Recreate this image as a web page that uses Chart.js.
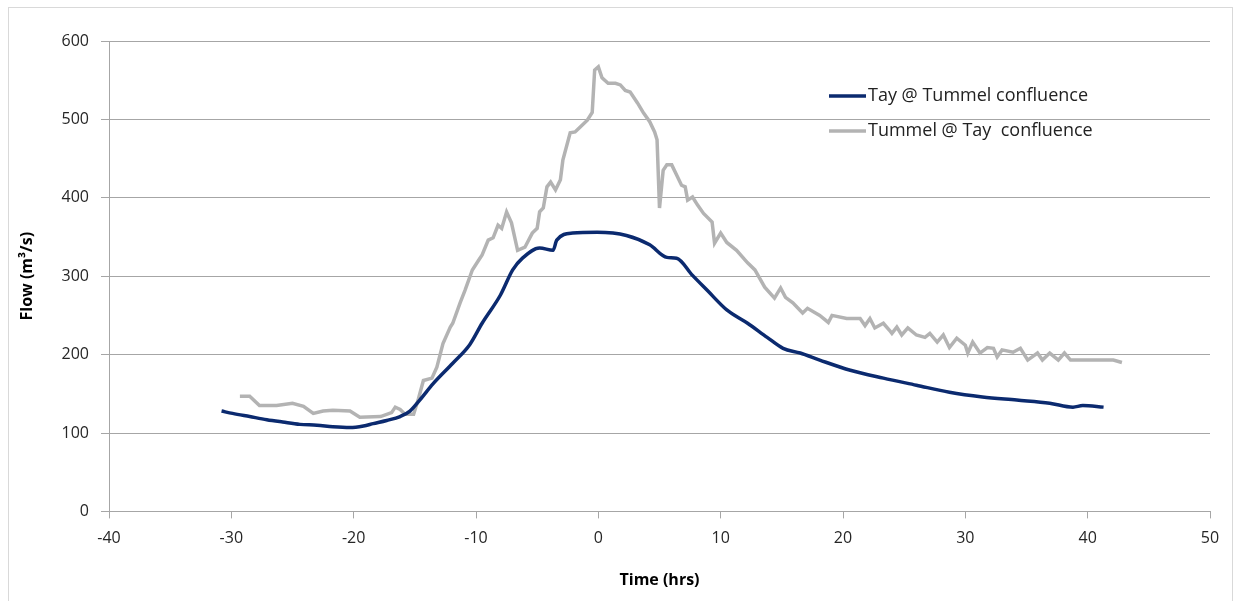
<!DOCTYPE html>
<html>
<head>
<meta charset="utf-8">
<script src="https://cdn.jsdelivr.net/npm/chart.js@4/dist/chart.umd.min.js"></script>
<style>
  body { margin: 0; background: #fff; }
  #wrap { width: 1235px; height: 601px; }
</style>
</head>
<body>
<div id="wrap"><canvas id="flow-chart"></canvas></div>
<script>
// Tay @ Tummel confluence
let tayTime = [-30.8, -29.9, -28.5, -27.1, -25.8, -24.4, -23.0, -21.7, -20.3, -19.2, -18.4, -17.3, -16.2, -15.4, -14.6, -13.5, -11.9, -10.5, -9.5, -8.0, -7.0, -6.2, -4.8, -3.7, -3.4, -2.1, -0.1, 2.3, 4.2, 5.6, 6.4, 7.7, 8.9, 10.5, 12.2, 13.8, 15.1, 16.5, 18.1, 20.6, 23.3, 26.0, 28.7, 31.4, 34.2, 36.9, 38.8, 39.6, 41.3];
let tayFlow = [128, 125, 121, 117, 114, 111, 110, 108, 107, 109, 112, 116, 121, 128, 142, 163, 189, 213, 240, 276, 308, 323, 336, 333, 346, 355, 356, 352, 340, 324, 323, 301, 282, 257, 240, 222, 208, 202, 193, 180, 170, 161, 152, 146, 142, 138, 133, 135, 133];

// Tummel @ Tay confluence
let tummelTime = [-29.3, -28.5, -27.7, -26.3, -25.0, -24.1, -23.3, -22.5, -21.7, -20.3, -19.5, -17.8, -16.9, -16.6, -16.2, -15.8, -15.1, -14.7, -14.3, -13.6, -13.2, -12.7, -12.1, -11.9, -11.3, -10.9, -10.3, -9.8, -9.5, -9.0, -8.6, -8.2, -7.9, -7.5, -7.1, -6.6, -6.0, -5.4, -5.0, -4.8, -4.5, -4.2, -3.9, -3.5, -3.1, -2.9, -2.3, -1.9, -1.5, -0.9, -0.5, -0.3, 0.0, 0.3, 0.8, 1.4, 1.8, 2.2, 2.6, 3.2, 3.7, 4.2, 4.6, 4.8, 5.0, 5.3, 5.6, 6.0, 6.4, 6.8, 7.1, 7.3, 7.7, 8.1, 8.6, 9.3, 9.5, 10.0, 10.5, 11.3, 12.2, 12.8, 13.6, 14.4, 14.9, 15.3, 15.9, 16.7, 17.1, 18.1, 18.8, 19.1, 20.3, 21.4, 21.8, 22.2, 22.6, 23.3, 23.8, 24.0, 24.4, 24.8, 25.3, 26.0, 26.7, 27.1, 27.7, 28.2, 28.7, 29.3, 30.0, 30.2, 30.6, 31.2, 31.8, 32.3, 32.6, 33.0, 33.9, 34.5, 35.1, 35.9, 36.3, 36.9, 37.6, 38.1, 38.6, 42.1, 42.8];
let tummelFlow = [147, 147, 135, 135, 138, 134, 125, 128, 129, 128, 120, 121, 126, 133, 130, 124, 124, 144, 167, 170, 184, 214, 235, 240, 266, 282, 308, 320, 327, 346, 349, 365, 361, 382, 368, 333, 337, 355, 361, 382, 387, 414, 420, 410, 423, 448, 483, 484, 490, 499, 509, 563, 567, 553, 546, 546, 544, 537, 535, 521, 508, 497, 484, 474, 387, 435, 442, 442, 429, 416, 414, 397, 401, 391, 380, 369, 342, 355, 343, 333, 317, 308, 286, 272, 285, 273, 266, 253, 259, 250, 241, 250, 246, 246, 237, 246, 234, 240, 231, 227, 235, 225, 234, 225, 222, 227, 216, 225, 209, 221, 212, 202, 216, 202, 209, 208, 197, 206, 203, 208, 193, 202, 193, 202, 193, 202, 193, 193, 190];

let seriesNames = ['Tay @ Tummel confluence', 'Tummel @ Tay  confluence'];
let colorHex = ['#0b2a6f', '#b3b3b3'];

function toPoints(xs, ys) {
    return xs.map((x, i) => ({ x: x, y: ys[i] }));
}

// frame round the whole chart
const framePlugin = {
    id: 'frame',
    beforeDraw(chart) {
        const c = chart.ctx;
        c.save();
        c.fillStyle = '#fff';
        c.fillRect(0, 0, chart.width, chart.height);
        c.strokeStyle = '#d9d9d9';
        c.lineWidth = 1;
        c.strokeRect(8.5, 7.5, 1224, 600);
        c.restore();
    }
};

// legend sits inside the plot, top right
const insideLegend = {
    id: 'insideLegend',
    afterDatasetsDraw(chart) {
        const c = chart.ctx;
        c.save();
        c.font = '18px "Open Sans"';
        c.textBaseline = 'middle';
        chart.data.datasets.forEach((ds, i) => {
            let y = 96 + i * 35;
            c.strokeStyle = ds.borderColor;
            c.lineWidth = 3.5;
            c.beginPath();
            c.moveTo(829, y);
            c.lineTo(866, y);
            c.stroke();
            c.fillStyle = '#222';
            c.fillText(ds.label, 868, y);
        });
        c.restore();
    }
};

let ctx = document.getElementById('flow-chart').getContext('2d');
let myChart = new Chart(ctx, {
    type: 'scatter',
    data: {
        datasets: [{
            label: seriesNames[0],
            data: toPoints(tayTime, tayFlow),
            borderColor: colorHex[0],
            backgroundColor: colorHex[0],
            borderWidth: 3.5,
            showLine: true,
            cubicInterpolationMode: 'monotone',
            pointRadius: 0
        }, {
            label: seriesNames[1],
            data: toPoints(tummelTime, tummelFlow),
            borderColor: colorHex[1],
            backgroundColor: colorHex[1],
            borderWidth: 3.5,
            showLine: true,
            pointRadius: 0
        }]
    },
    options: {
        responsive: true,
        maintainAspectRatio: false,
        animation: false,
        layout: {
            padding: { left: 18, right: 25, top: 41, bottom: 11 }
        },
        plugins: {
            legend: { display: false },
            tooltip: { enabled: false }
        },
        scales: {
            x: {
                type: 'linear',
                min: -40,
                max: 50,
                ticks: {
                    stepSize: 10,
                    color: '#262626',
                    padding: 10,
                    font: { family: 'Open Sans', size: 16 }
                },
                grid: {
                    drawOnChartArea: false,
                    tickLength: 7,
                    color: '#a6a6a6'
                },
                border: { color: '#a6a6a6' },
                title: {
                    display: true,
                    text: 'Time (hrs)',
                    color: '#000',
                    padding: 0,
                    font: { family: 'Open Sans', size: 16, weight: 'bold' }
                },
                afterFit: (scale) => { scale.height = 78.6; }
            },
            y: {
                min: 0,
                max: 600,
                ticks: {
                    stepSize: 100,
                    color: '#262626',
                    padding: 12,
                    font: { family: 'Open Sans', size: 16 }
                },
                grid: {
                    tickLength: 8,
                    color: '#a6a6a6'
                },
                border: { color: '#a6a6a6' },
                title: {
                    display: true,
                    text: 'Flow (m³/s)',
                    color: '#000',
                    padding: 0,
                    font: { family: 'Open Sans', size: 16, weight: 'bold' }
                },
                afterFit: (scale) => { scale.width = 91; }
            }
        }
    },
    plugins: [framePlugin, insideLegend]
});
</script>
</body>
</html>
